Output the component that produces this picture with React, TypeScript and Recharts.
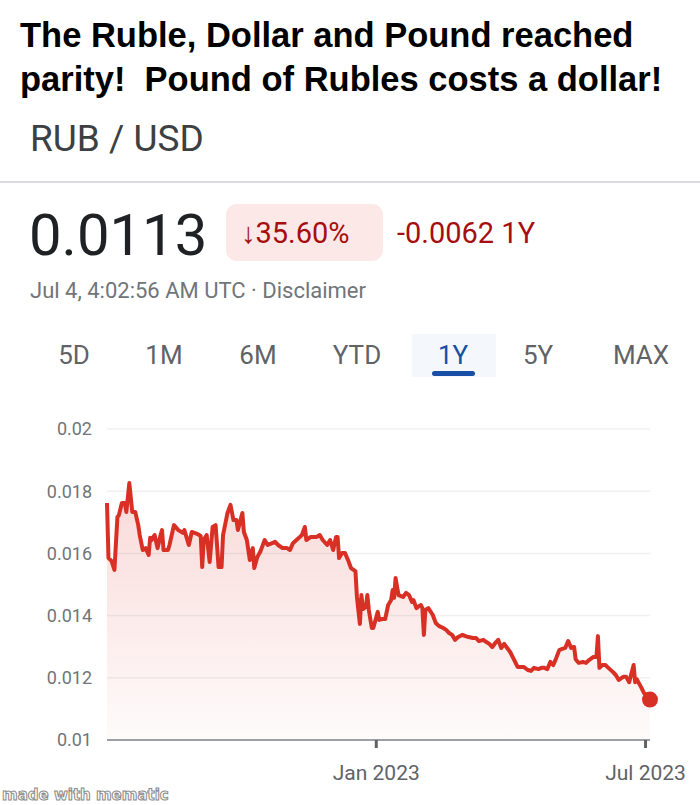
import React from "react";
import { AreaChart, Area, XAxis, YAxis, CartesianGrid, ReferenceDot } from "recharts";

// RUB / USD, 1Y window (Jul 2022 – Jul 2023)
const dates = [
  "2022-07-04", "2022-07-05", "2022-07-07", "2022-07-09", "2022-07-11", "2022-07-12", "2022-07-14", "2022-07-16",
  "2022-07-17", "2022-07-19", "2022-07-21", "2022-07-23", "2022-07-25", "2022-07-26", "2022-07-28", "2022-07-30",
  "2022-08-01", "2022-08-02", "2022-08-03", "2022-08-05", "2022-08-07", "2022-08-09", "2022-08-10", "2022-08-11",
  "2022-08-14", "2022-08-15", "2022-08-18", "2022-08-21", "2022-08-24", "2022-08-25", "2022-08-28", "2022-08-30",
  "2022-09-03", "2022-09-05", "2022-09-06", "2022-09-07", "2022-09-09", "2022-09-11", "2022-09-13", "2022-09-15",
  "2022-09-17", "2022-09-19", "2022-09-20", "2022-09-23", "2022-09-25", "2022-09-27", "2022-09-29", "2022-09-30",
  "2022-10-03", "2022-10-04", "2022-10-06", "2022-10-08", "2022-10-10", "2022-10-11", "2022-10-13", "2022-10-15",
  "2022-10-18", "2022-10-20", "2022-10-23", "2022-10-25", "2022-10-27", "2022-10-30", "2022-11-02", "2022-11-04",
  "2022-11-06", "2022-11-10", "2022-11-12", "2022-11-14", "2022-11-15", "2022-11-18", "2022-11-22", "2022-11-24",
  "2022-11-26", "2022-11-29", "2022-12-01", "2022-12-03", "2022-12-05", "2022-12-06", "2022-12-07", "2022-12-09",
  "2022-12-11", "2022-12-13", "2022-12-15", "2022-12-18", "2022-12-19", "2022-12-21", "2022-12-22", "2022-12-23",
  "2022-12-25", "2022-12-26", "2022-12-27", "2022-12-29", "2022-12-30", "2023-01-02", "2023-01-03", "2023-01-05",
  "2023-01-07", "2023-01-09", "2023-01-11", "2023-01-12", "2023-01-13", "2023-01-14", "2023-01-15", "2023-01-16",
  "2023-01-19", "2023-01-21", "2023-01-23", "2023-01-25", "2023-01-26", "2023-01-28", "2023-01-29", "2023-01-31",
  "2023-02-01", "2023-02-02", "2023-02-03", "2023-02-05", "2023-02-08", "2023-02-10", "2023-02-12", "2023-02-15",
  "2023-02-17", "2023-02-19", "2023-02-21", "2023-02-23", "2023-02-25", "2023-02-28", "2023-03-02", "2023-03-04",
  "2023-03-07", "2023-03-09", "2023-03-11", "2023-03-14", "2023-03-16", "2023-03-18", "2023-03-20", "2023-03-22",
  "2023-03-24", "2023-03-26", "2023-03-28", "2023-03-30", "2023-04-01", "2023-04-03", "2023-04-06", "2023-04-08",
  "2023-04-10", "2023-04-13", "2023-04-15", "2023-04-17", "2023-04-20", "2023-04-22", "2023-04-24", "2023-04-26",
  "2023-04-28", "2023-04-30", "2023-05-02", "2023-05-04", "2023-05-06", "2023-05-08", "2023-05-10", "2023-05-12",
  "2023-05-14", "2023-05-15", "2023-05-17", "2023-05-20", "2023-05-22", "2023-05-24", "2023-05-27", "2023-05-29",
  "2023-05-30", "2023-05-31", "2023-06-02", "2023-06-04", "2023-06-06", "2023-06-09", "2023-06-11", "2023-06-13",
  "2023-06-16", "2023-06-18", "2023-06-20", "2023-06-23", "2023-06-24", "2023-06-25", "2023-06-28", "2023-06-30",
  "2023-07-04",
];

const rates = [
  0.01762, 0.01585, 0.01576, 0.01547, 0.01717, 0.01723, 0.01762, 0.01762,
  0.01733, 0.01826, 0.01733, 0.01733, 0.01691, 0.01659, 0.01611, 0.01617,
  0.01595, 0.0165, 0.01643, 0.01659, 0.01617, 0.01659, 0.01675, 0.01611,
  0.01611, 0.01627, 0.01691, 0.01675, 0.01666, 0.01675, 0.01627, 0.01669,
  0.01662, 0.01656, 0.01556, 0.01643, 0.01659, 0.01572, 0.01685, 0.01691,
  0.01556, 0.01556, 0.01659, 0.0173, 0.01756, 0.01707, 0.01707, 0.01675,
  0.0173, 0.01669, 0.01643, 0.01579, 0.01617, 0.01553, 0.01588, 0.01605,
  0.01643, 0.01627, 0.01633, 0.01637, 0.01627, 0.01617, 0.01617, 0.01611,
  0.01633, 0.0165, 0.01659, 0.01685, 0.01643, 0.01653, 0.01653, 0.01659,
  0.01643, 0.01627, 0.01643, 0.01611, 0.01653, 0.01653, 0.01585, 0.01601,
  0.01601, 0.01579, 0.01553, 0.01543, 0.0146, 0.01373, 0.01466, 0.01421,
  0.01428, 0.01466, 0.01418, 0.0136, 0.0136, 0.01412, 0.01386, 0.01389,
  0.01389, 0.01434, 0.0145, 0.01482, 0.01457, 0.01521, 0.01492, 0.01466,
  0.0146, 0.01473, 0.01466, 0.01444, 0.0145, 0.01424, 0.01428, 0.01434,
  0.01424, 0.01338, 0.01418, 0.01424, 0.01402, 0.01376, 0.01367, 0.0136,
  0.01354, 0.01344, 0.01338, 0.01322, 0.01331, 0.01338, 0.01334, 0.01331,
  0.01328, 0.01328, 0.01318, 0.01322, 0.01315, 0.01309, 0.01299, 0.01312,
  0.01322, 0.01296, 0.01309, 0.01296, 0.01283, 0.01264, 0.01235, 0.01235,
  0.01235, 0.01225, 0.01222, 0.01232, 0.01228, 0.01232, 0.01232, 0.01228,
  0.01251, 0.01241, 0.01264, 0.01289, 0.01293, 0.01296, 0.01318, 0.01296,
  0.01299, 0.0126, 0.01248, 0.01251, 0.01248, 0.01257, 0.01267, 0.01267,
  0.01334, 0.01232, 0.01241, 0.01241, 0.01232, 0.01219, 0.01209, 0.01193,
  0.01203, 0.01203, 0.01186, 0.01241, 0.01186, 0.01196, 0.0117, 0.01151,
  0.0113,
];

const yTicks = [0.01, 0.012, 0.014, 0.016, 0.018, 0.02];
const xTickDates = ["2023-01-01", "2023-07-01"];
const rangeTabs = ["5D", "1M", "6M", "YTD", "1Y", "5Y", "MAX"];
const tabCenters = [74, 164, 258, 357, 453, 538, 641];

const ts = (d: string) => Date.parse(d + "T00:00:00Z");
const data = dates.map((d, i) => ({ t: ts(d), rate: rates[i] }));
const last = data[data.length - 1];
const MONTHS = ["Jan", "Feb", "Mar", "Apr", "May", "Jun", "Jul", "Aug", "Sep", "Oct", "Nov", "Dec"];

const RED = "#d93025";
const GOOGLE = "Roboto, 'Noto Sans', Arial, sans-serif";

export default function App() {
  return (
    <div style={{ position: "absolute", top: 0, left: 0, width: 700, height: 805, background: "#fff", overflow: "hidden" }}>
      <div style={{ position: "absolute", top: 0, left: 0 }}>
        <AreaChart width={700} height={805} data={data} margin={{ top: 429, right: 50, bottom: 0, left: 0 }}>
          <defs>
            <linearGradient id="redFade" x1="0" y1="0" x2="0" y2="1">
              <stop offset="0%" stopColor={RED} stopOpacity={0.18} />
              <stop offset="100%" stopColor={RED} stopOpacity={0.02} />
            </linearGradient>
          </defs>
          <CartesianGrid vertical={false} stroke="#eef0f2" strokeWidth={1.5} />
          <XAxis
            type="number"
            dataKey="t"
            domain={[ts("2022-07-04"), ts("2023-07-04")]}
            ticks={xTickDates.map(ts)}
            interval={0}
            height={65}
            tickSize={8}
            tickMargin={17}
            axisLine={{ stroke: "#9aa0a6", strokeWidth: 2 }}
            tickLine={{ stroke: "#5f6368", strokeWidth: 3 }}
            tick={{ fill: "#5f6368", fontSize: 21, fontFamily: GOOGLE }}
            tickFormatter={(v: number) => {
              const d = new Date(v);
              return `${MONTHS[d.getUTCMonth()]} ${d.getUTCFullYear()}`;
            }}
          />
          <YAxis
            type="number"
            domain={[0.01, 0.02]}
            ticks={yTicks}
            width={107}
            tickSize={0}
            tickMargin={15}
            axisLine={false}
            tickLine={false}
            tick={{ fill: "#70757a", fontSize: 18, fontFamily: GOOGLE }}
            tickFormatter={(v: number) => String(Number(v.toFixed(3)))}
          />
          <Area
            type="linear"
            dataKey="rate"
            stroke={RED}
            strokeWidth={4}
            strokeLinejoin="round"
            fill="url(#redFade)"
            fillOpacity={1}
            dot={false}
            activeDot={false}
            isAnimationActive={false}
          />
          <ReferenceDot x={last.t} y={last.rate} r={8} fill={RED} stroke="none" ifOverflow="visible" />
        </AreaChart>
      </div>

      <svg width={700} height={430} style={{ position: "absolute", top: 0, left: 0 }}>
        <g fontFamily="'Liberation Sans', Arial, sans-serif" fontWeight="bold" fontSize={34.5} fill="#000">
          <text x={20} y={47}>The Ruble, Dollar and Pound reached</text>
          <text x={20} y={91} xmlSpace="preserve" style={{ whiteSpace: "pre" }}>{"parity!  Pound of Rubles costs a dollar!"}</text>
        </g>
        <text x={30} y={151} fontFamily={GOOGLE} fontSize={37} fill="#3c4043">RUB / USD</text>
        <rect x={0} y={181} width={700} height={2} fill="#dadce0" />

        <text x={29} y={255} fontFamily={GOOGLE} fontSize={58} fill="#202124">0.0113</text>
        <rect x={226} y={204} width={157} height={57} rx={11} fill="#fce8e6" />
        <text x={241} y={243} fontFamily={GOOGLE} fontSize={29} fill="#a50e0e">↓35.60%</text>
        <text x={397} y={243} fontFamily={GOOGLE} fontSize={29} fill="#a50e0e">-0.0062 1Y</text>
        <text x={30} y={298} fontFamily={GOOGLE} fontSize={22} fill="#70757a">Jul 4, 4:02:56 AM UTC · Disclaimer</text>

        <rect x={412} y={334} width={84} height={43} fill="#f4f7fc" />
        <rect x={432} y={371} width={43} height={5} rx={2.5} fill="#174ea6" />
        {rangeTabs.map((label, i) => (
          <text
            key={label}
            x={tabCenters[i]}
            y={364}
            textAnchor="middle"
            fontFamily={GOOGLE}
            fontSize={26}
            fill={label === "1Y" ? "#174ea6" : "#5f6368"}
          >
            {label}
          </text>
        ))}
      </svg>

      <svg width={200} height={30} style={{ position: "absolute", top: 778, left: 0 }}>
        <text
          x={2}
          y={22}
          fontFamily="'DejaVu Sans', sans-serif"
          fontWeight="bold"
          fontSize={15}
          fill="#fff"
          stroke="#8a8a8a"
          strokeWidth={1}
        >
          made with mematic
        </text>
      </svg>
    </div>
  );
}
